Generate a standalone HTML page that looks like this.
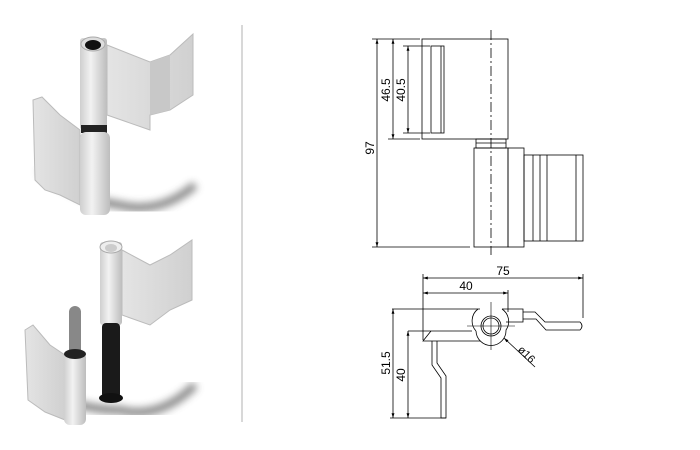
<!DOCTYPE html>
<html><head><meta charset="utf-8"><style>
html,body{margin:0;padding:0;background:#fff;}
svg{display:block;font-family:"Liberation Sans",sans-serif;}
</style></head><body>
<svg width="700" height="450" viewBox="0 0 700 450" xmlns="http://www.w3.org/2000/svg">
<defs>
<linearGradient id="bar" x1="0" x2="1"><stop offset="0" stop-color="#cfcfcf"/><stop offset="0.4" stop-color="#f2f2f2"/><stop offset="1" stop-color="#bdbdbd"/></linearGradient>
<linearGradient id="leaf" x1="0" x2="1"><stop offset="0" stop-color="#e4e4e4"/><stop offset="1" stop-color="#d0d0d0"/></linearGradient>
<filter id="bl"><feGaussianBlur stdDeviation="4"/></filter>
<marker id="ar" viewBox="0 0 10 10" refX="10" refY="5" markerWidth="6" markerHeight="6" orient="auto-start-reverse"><path d="M0,2 L10,5 L0,8 z" fill="#000"/></marker>
</defs>
<!-- left renders -->
<path d="M40,170 Q80,200 120,205 Q160,215 195,185" stroke="#555" stroke-width="8" fill="none" filter="url(#bl)" opacity="0.7"/>
<path d="M40,390 Q80,410 120,410 Q160,420 195,385" stroke="#555" stroke-width="8" fill="none" filter="url(#bl)" opacity="0.7"/>
<!-- top hinge upper leaf -->
<polygon points="107,45 150,62 170,55 193,34 193,95 170,110 150,115 150,130 107,115" fill="url(#leaf)" stroke="#bbb"/>
<polygon points="150,62 170,55 170,110 150,115" fill="#c8c8c8"/>
<rect x="80" y="38" width="27" height="92" rx="3" fill="url(#bar)"/>
<ellipse cx="93" cy="44" rx="12" ry="7" fill="#ddd" stroke="#aaa"/>
<ellipse cx="93" cy="45" rx="8" ry="5" fill="#111"/>
<rect x="81" y="125" width="26" height="8" fill="#222"/>
<!-- lower leaf -->
<polygon points="33,100 42,97 60,115 80,130 80,205 60,195 45,190 35,180" fill="url(#leaf)" stroke="#bbb"/>
<rect x="80" y="132" width="30" height="83" rx="6" fill="url(#bar)"/>
<!-- bottom piece upper -->
<polygon points="122,250 150,265 170,255 192,240 192,300 170,310 150,325 122,315" fill="url(#leaf)" stroke="#bbb"/>
<rect x="100" y="242" width="22" height="83" rx="3" fill="url(#bar)"/>
<ellipse cx="111" cy="247" rx="11" ry="6" fill="#eee" stroke="#aaa"/>
<ellipse cx="111" cy="248" rx="6" ry="4" fill="#ccc"/>
<!-- pin + lower leaf -->
<rect x="69" y="306" width="12" height="50" rx="6" fill="#888"/>
<polygon points="25,330 33,325 50,345 65,355 65,420 45,412 28,400" fill="url(#leaf)" stroke="#bbb"/>
<rect x="64" y="352" width="22" height="73" rx="6" fill="url(#bar)"/>
<ellipse cx="75" cy="354" rx="11" ry="5" fill="#222"/>
<rect x="102" y="323" width="18" height="75" rx="4" fill="#1a1a1a"/>
<ellipse cx="111" cy="398" rx="12" ry="5" fill="#111"/>
<!-- divider -->
<line x1="242" y1="25" x2="242" y2="422" stroke="#ccc" stroke-width="1.5"/>
<!-- right drawing top -->
<g stroke="#000" stroke-width="0.8" fill="none">
<rect x="422" y="39" width="86" height="100"/>
<rect x="431" y="46" width="13" height="87"/>
<line x1="441" y1="46" x2="441" y2="133"/>
<rect x="476" y="139" width="30" height="9"/>
<line x1="476" y1="143" x2="506" y2="143"/>
<rect x="474" y="148" width="34" height="99"/>
<rect x="508" y="148" width="16" height="99"/>
<rect x="524" y="155" width="59" height="86"/>
<line x1="533" y1="155" x2="533" y2="241"/><line x1="540" y1="155" x2="540" y2="241"/><line x1="547" y1="155" x2="547" y2="241"/><line x1="576" y1="155" x2="576" y2="241"/>
<line x1="491" y1="30" x2="491" y2="255" stroke-dasharray="10,3,2,3"/>
<line x1="372" y1="39" x2="420" y2="39"/><line x1="372" y1="247" x2="470" y2="247"/>
<line x1="388" y1="139" x2="420" y2="139"/><line x1="403" y1="46" x2="430" y2="46"/><line x1="403" y1="133" x2="430" y2="133"/>
<line x1="377" y1="39" x2="377" y2="247" marker-start="url(#ar)" marker-end="url(#ar)"/>
<line x1="393" y1="39" x2="393" y2="139" marker-start="url(#ar)" marker-end="url(#ar)"/>
<line x1="408" y1="46" x2="408" y2="133" marker-start="url(#ar)" marker-end="url(#ar)"/>
</g>
<g font-size="12" fill="#000">
<text transform="translate(374,148) rotate(-90)" text-anchor="middle">97</text>
<text transform="translate(390,90) rotate(-90)" text-anchor="middle">46.5</text>
<text transform="translate(405,90) rotate(-90)" text-anchor="middle">40.5</text>
<text x="503" y="275" text-anchor="middle">75</text>
<text x="466" y="290" text-anchor="middle">40</text>
<text transform="translate(390,363) rotate(-90)" text-anchor="middle">51.5</text>
<text transform="translate(405,375) rotate(-90)" text-anchor="middle">40</text>
<text transform="translate(524,357) rotate(45)" text-anchor="middle" font-size="11">ø16</text>
</g>
<!-- bottom drawing -->
<g stroke="#000" stroke-width="0.8" fill="none">
<line x1="423" y1="274" x2="423" y2="340"/><line x1="583" y1="274" x2="583" y2="318"/><line x1="508" y1="290" x2="508" y2="312"/>
<line x1="423" y1="278" x2="583" y2="278" marker-start="url(#ar)" marker-end="url(#ar)"/>
<line x1="423" y1="293" x2="508" y2="293" marker-start="url(#ar)" marker-end="url(#ar)"/>
<path d="M392,309 L480,309 M502,309 L523,309 L523,322 L506,322"/>
<path d="M523,312 L535,312 L545,322 L580,322 Q584,326 580,330 L546,330 L536,319 L523,319"/>
<path d="M408,331 L431,331 L423,341 L480,341 M431,331 L472,331"/>
<path d="M478,309 A15,15 0 0 0 476,331 M476,331 A15,15 0 0 0 506,330 A15,15 0 0 0 502,309"/>
<circle cx="491" cy="326" r="10"/><circle cx="491" cy="326" r="8"/>
<line x1="467" y1="326" x2="515" y2="326" stroke-width="0.6"/><line x1="491" y1="302" x2="491" y2="350" stroke-width="0.6"/>
<path d="M432,341 L432,365 L441,378 L441,418 L446,418 L446,376 L437,363 L437,341"/>
<line x1="390" y1="418" x2="446" y2="418"/>
<line x1="393" y1="309" x2="393" y2="418" marker-start="url(#ar)" marker-end="url(#ar)"/>
<line x1="408" y1="331" x2="408" y2="418" marker-start="url(#ar)" marker-end="url(#ar)"/>
<line x1="535" y1="367" x2="504" y2="338" marker-end="url(#ar)"/>
</g>
</svg>
</body></html>
